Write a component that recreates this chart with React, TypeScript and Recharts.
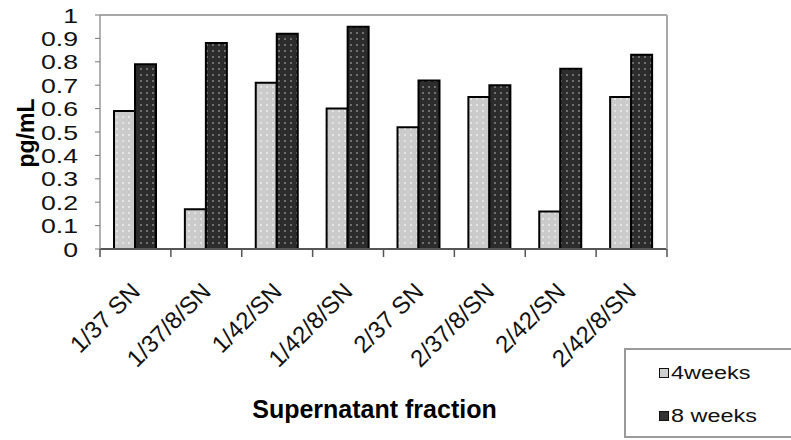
import React from 'react';
import { BarChart, Bar, XAxis, YAxis, Legend, Label } from 'recharts';

const categories = ['1/37 SN', '1/37/8/SN', '1/42/SN', '1/42/8/SN', '2/37 SN', '2/37/8/SN', '2/42/SN', '2/42/8/SN'];
const weeks4 = [0.59, 0.17, 0.71, 0.6, 0.52, 0.65, 0.16, 0.65];
const weeks8 = [0.79, 0.88, 0.92, 0.95, 0.72, 0.7, 0.77, 0.83];
const yTicks = [0, 0.1, 0.2, 0.3, 0.4, 0.5, 0.6, 0.7, 0.8, 0.9, 1];

const series = [
  { key: 'w4', name: '4weeks', fill: 'url(#lightDots)', swatch: '#cfcfcf' },
  { key: 'w8', name: '8 weeks', fill: 'url(#darkDots)', swatch: '#333' },
];

const data = categories.map((name, i) => ({ name, w4: weeks4[i], w8: weeks8[i] }));

const FONT = '"Liberation Sans", Arial, sans-serif';

const fmt = (v: number) => String(Math.round(v * 10) / 10);

const YTick = ({ x, y, payload }: any) => (
  <g transform={`translate(${x},${y})`}>
    <text x={0} y={0} dy={7.5} textAnchor="end" transform="scale(1.27,1)" fontSize={21} fontFamily={FONT} fill="#111">
      {fmt(payload.value)}
    </text>
  </g>
);

// category labels, plus the small ticks at the band edges
const XTick = ({ x, y, payload, index, width, visibleTicksCount }: any) => {
  const band = width && visibleTicksCount ? width / visibleTicksCount : 70.9;
  const left = x - band / 2;
  const right = x + band / 2;
  return (
    <g>
      <line x1={left} x2={left} y1={y} y2={y + 8} stroke="#555" strokeWidth={1.5} />
      {index === visibleTicksCount - 1 && <line x1={right} x2={right} y1={y} y2={y + 8} stroke="#555" strokeWidth={1.5} />}
      <g transform={`translate(${x + 6},${y + 44})`}>
        <text textAnchor="end" transform="rotate(-45)" fontSize={24} fontFamily={FONT} fill="#111">
          {payload.value}
        </text>
      </g>
    </g>
  );
};

const LegendBox = ({ payload }: any) => (
  <div
    style={{
      border: '2px solid #9a9a9a',
      borderRight: 'none',
      width: 200,
      height: 90,
      boxSizing: 'border-box',
      paddingLeft: 33,
      paddingTop: 10,
      fontFamily: FONT,
      fontSize: 18,
      color: '#111',
    }}
  >
    {(payload || []).map((p: any, i: number) => {
      const s = series.find((d) => d.key === p.dataKey) || series[i];
      return (
        <div key={s.key} style={{ display: 'flex', alignItems: 'center', height: 26, marginBottom: i === 0 ? 17 : 0 }}>
          <span
            style={{
              display: 'inline-block',
              width: 8,
              height: 8,
              background: s.swatch,
              border: '1.5px solid #111',
              marginRight: 2,
            }}
          />
          <span style={{ display: 'inline-block', transform: 'scaleX(1.3)', transformOrigin: 'left center' }}>{s.name}</span>
        </div>
      );
    })}
  </div>
);

export default function App() {
  return (
    <div style={{ position: 'relative', width: 791, height: 440, overflow: 'hidden', background: '#fff' }}>
      <style>{`body{margin:0;}`}</style>
      <svg width={0} height={0} style={{ position: 'absolute' }}>
        <defs>
          <pattern id="lightDots" width={6} height={6} patternUnits="userSpaceOnUse">
            <rect width={6} height={6} fill="#cbcbcb" />
            <rect x={2} y={2} width={2} height={2} fill="#e4e4e4" />
          </pattern>
          <pattern id="darkDots" width={6} height={6} patternUnits="userSpaceOnUse">
            <rect width={6} height={6} fill="#2c2c2c" />
            <rect x={2} y={2} width={2} height={2} fill="#707070" />
          </pattern>
        </defs>
      </svg>
      <BarChart width={791} height={440} data={data} margin={{ top: 14, right: 123, left: 0, bottom: 0 }} barGap={0} barSize={21}>
        <XAxis
          xAxisId="cat"
          dataKey="name"
          interval={0}
          axisLine={{ stroke: '#555', strokeWidth: 2 }}
          tickLine={false}
          tickSize={0}
          tickMargin={0}
          height={191}
          tick={<XTick />}
        >
          <Label
            value="Supernatant fraction"
            position="insideBottom"
            offset={22}
            dx={-9}
            style={{ fontFamily: FONT, fontSize: 25, fontWeight: 'bold', fill: '#000' }}
          />
        </XAxis>
        <XAxis
          xAxisId="top"
          orientation="top"
          type="number"
          domain={[0, 1]}
          allowDataOverflow
          tick={false}
          tickLine={false}
          height={1}
          axisLine={{ stroke: '#a8a8a8', strokeWidth: 2 }}
        />
        <YAxis
          yAxisId="y"
          domain={[0, 1]}
          ticks={yTicks}
          interval={0}
          width={100}
          tickSize={5}
          tickMargin={17}
          tickLine={{ stroke: '#777', strokeWidth: 1 }}
          axisLine={{ stroke: '#999', strokeWidth: 1.5 }}
          tick={<YTick />}
        >
          <Label
            content={() => (
              <text
                transform="translate(34,133) rotate(-90)"
                textAnchor="middle"
                fontFamily={FONT}
                fontSize={23}
                fontWeight="bold"
                fill="#000"
              >
                pg/mL
              </text>
            )}
          />
        </YAxis>
        <YAxis
          yAxisId="r"
          orientation="right"
          domain={[0, 1]}
          allowDataOverflow
          width={1}
          tick={false}
          tickLine={false}
          axisLine={{ stroke: '#a8a8a8', strokeWidth: 2 }}
        />
        {series.map((s) => (
          <Bar
            key={s.key}
            dataKey={s.key}
            name={s.name}
            xAxisId="cat"
            yAxisId="y"
            fill={s.fill}
            stroke="#000"
            strokeWidth={2}
            isAnimationActive={false}
          />
        ))}
        <Legend
          layout="vertical"
          align="center"
          verticalAlign="middle"
          content={<LegendBox />}
          wrapperStyle={{ position: 'absolute', left: 624, top: 348, width: 200, height: 90 }}
        />
      </BarChart>
    </div>
  );
}
